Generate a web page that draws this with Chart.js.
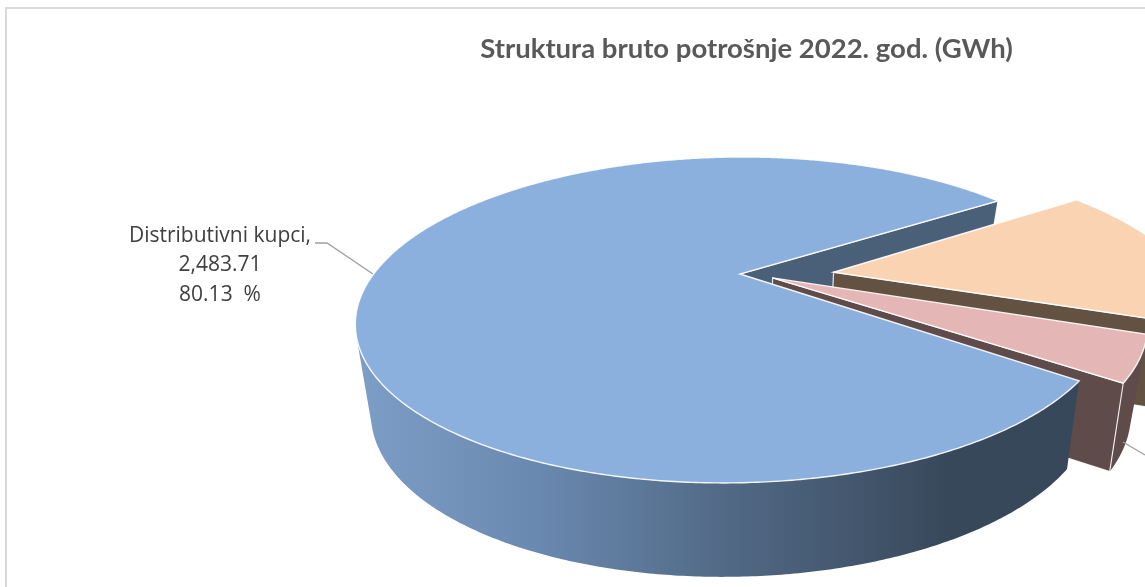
<!DOCTYPE html>
<html>
<head>
<meta charset="utf-8">
<script src="https://cdn.jsdelivr.net/npm/chart.js@4"></script>
<style>
html,body{margin:0;padding:0;width:1145px;height:587px;overflow:hidden;background:#fff}
#frame{position:absolute;left:5px;top:7px;width:1600px;height:700px;border-left:2px solid #d9d9d9;border-top:2px solid #d9d9d9}
#c{position:absolute;left:0;top:0}
</style>
</head>
<body>
<div id="frame"></div>
<canvas id="c" width="1493" height="587"></canvas>
<script>
// Data (only the first slice's label is legible; the others are cut off by the crop, values estimated)
const categories = ["Distributivni kupci", "", ""];
const values = [2483.71, 470, 146];
const percentLabels = ["80.13  %", "", ""];
const valueLabels = ["2,483.71", "", ""];

// Styles
const topColors = ["#8bb0de", "#fad3b3", "#e5b6b6"];
const cutColors = ["#4a5f78", "#635242", "#5f4b49"];
const wallColors = [null, "#6b5847", "#5f4b49"];
const explodeU = [0, 0.26, 0.09];
const explodeV = [0, -0.012, 0.026];
const startTrimDeg = [0, 0, 0];
const endTrimDeg = [0, 0, -1];
const paintOrder = [1, 2, 0];
const topDisc = {cx:740, cy:274, R:362, S:150, k:0.282, m:-0.012, sh:-0.053};
const botDisc = {cx:740, cy:359, R:345, S:152.5, k:0.30, m:-0.012, sh:-0.053};

function project(d, u, v){
  const w = 1 - d.k * v - d.m * u;
  const y = d.S * v / w;
  return [d.cx + d.R * u / w + d.sh * y, d.cy + y];
}

class Pie3DController extends Chart.PieController {
  draw(){
    const ctx = this.chart.ctx;
    const arcs = this.getMeta().data;
    const rad = Math.PI / 180;
    const geom = arcs.map((a, i) => ({
      a0: a.startAngle + startTrimDeg[i] * rad,
      a1: a.endAngle + endTrimDeg[i] * rad,
      du: explodeU[i], dv: explodeV[i]
    }));
    const rim = (g, d, a) => project(d, g.du + Math.cos(a), g.dv + Math.sin(a));
    const poly = (pts) => {
      ctx.beginPath();
      pts.forEach((p, i) => i ? ctx.lineTo(p[0], p[1]) : ctx.moveTo(p[0], p[1]));
      ctx.closePath();
    };
    const cut = (i) => {
      const g = geom[i];
      poly([project(topDisc,g.du,g.dv), rim(g,topDisc,g.a1), rim(g,botDisc,g.a1), project(botDisc,g.du,g.dv)]);
      ctx.fillStyle = cutColors[i];
      ctx.fill();
      ctx.strokeStyle = "rgba(255,255,255,0.85)";
      ctx.lineWidth = 1.2;
      ctx.stroke();
    };
    const wall = (i) => {
      const g = geom[i];
      const step = Math.PI / 360;
      ctx.beginPath();
      for (let a = g.a0; a < g.a1; a += step) {
        const b = Math.min(a + step, g.a1);
        const q = [rim(g,topDisc,a), rim(g,topDisc,b), rim(g,botDisc,b), rim(g,botDisc,a)];
        let area = 0;
        q.forEach((p, j) => { const n = q[(j+1)%4]; area += p[0]*n[1] - n[0]*p[1]; });
        if (area >= 0) continue;
        ctx.moveTo(q[0][0], q[0][1]);
        for (let j = 1; j < 4; j++) ctx.lineTo(q[j][0], q[j][1]);
        ctx.closePath();
      }
      if (wallColors[i]) {
        ctx.fillStyle = wallColors[i];
      } else {
        const gr = ctx.createLinearGradient(360, 0, 950, 0);
        gr.addColorStop(0, "#7c9dc6");
        gr.addColorStop(0.3, "#6a89b0");
        gr.addColorStop(0.6, "#536b88");
        gr.addColorStop(1, "#38485b");
        ctx.fillStyle = gr;
      }
      ctx.fill();
    };
    const top = (i) => {
      const g = geom[i];
      const pts = [project(topDisc,g.du,g.dv)];
      const n = Math.ceil((g.a1 - g.a0) / (Math.PI/360));
      for (let s = 0; s <= n; s++) pts.push(rim(g, topDisc, g.a0 + (g.a1-g.a0)*s/n));
      poly(pts);
      ctx.fillStyle = topColors[i];
      ctx.fill();
      ctx.strokeStyle = "rgba(255,255,255,0.9)";
      ctx.lineWidth = 1.4;
      ctx.stroke();
    };
    ctx.save();
    cut(0);
    paintOrder.forEach(i => {
      wall(i);
      if (i !== 0) cut(i);
      top(i);
    });
    ctx.restore();
  }
}
Pie3DController.id = "pie3d";
Pie3DController.defaults = Chart.PieController.defaults;
Pie3DController.overrides = Chart.PieController.overrides;
Chart.register(Pie3DController);

const labelPlugin = {
  id: "sliceLabels",
  afterDraw(chart){
    const ctx = chart.ctx;
    ctx.save();
    ctx.strokeStyle = "#a0a0a0";
    ctx.lineWidth = 1.4;
    ctx.beginPath();
    ctx.moveTo(373, 274); ctx.lineTo(327, 243); ctx.lineTo(315, 243);
    ctx.moveTo(1123, 442); ctx.lineTo(1145, 455);
    ctx.stroke();
    ctx.fillStyle = "#404040";
    ctx.font = "21px 'Open Sans'";
    ctx.textAlign = "center";
    ctx.textBaseline = "middle";
    ctx.fillText(categories[0] + ",", 220, 236);
    ctx.fillText(valueLabels[0], 220, 265);
    ctx.fillText(percentLabels[0], 220, 295);
    ctx.restore();
  }
};

new Chart(document.getElementById("c"), {
  type: "pie3d",
  data: { labels: categories, datasets: [{ data: values, backgroundColor: topColors }] },
  options: {
    responsive: false,
    animation: false,
    rotation: 126.8,
    plugins: {
      legend: { display: false },
      tooltip: { enabled: false },
      title: {
        display: true,
        text: "Struktura bruto potrošnje 2022. god. (GWh)",
        color: "#595959",
        font: { family: "Lato", size: 27.5, weight: "bold" },
        padding: { top: 33, bottom: 10 }
      }
    }
  },
  plugins: [labelPlugin]
});
</script>
</body>
</html>
